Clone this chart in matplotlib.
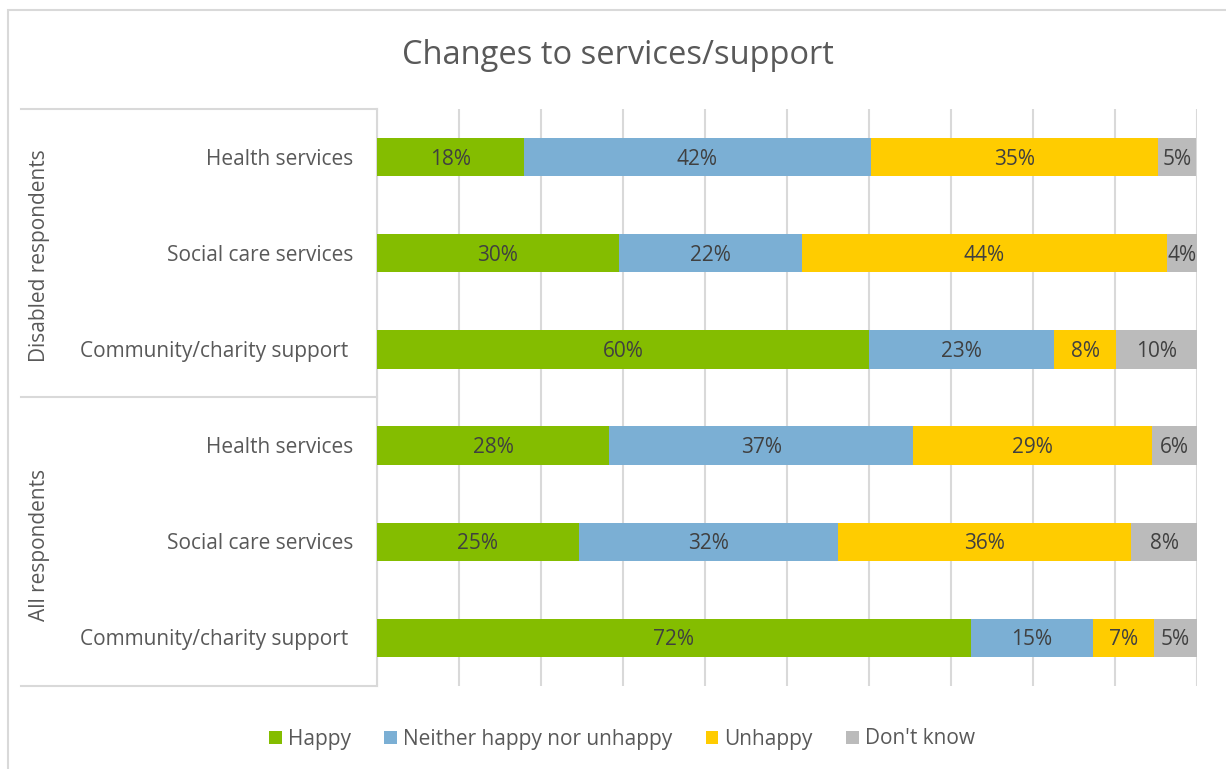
import matplotlib.pyplot as plt
import numpy as np

plt.rcParams['font.family'] = ['Open Sans', 'DejaVu Sans']

title = "Changes to services/support"
groups = ["Disabled respondents", "All respondents"]
categories = ["Health services", "Social care services", "Community/charity support ",
              "Health services", "Social care services", "Community/charity support "]
series = ["Happy", "Neither happy nor unhappy", "Unhappy", "Don't know"]
happy = [17.9, 29.5, 60.0, 28.3, 24.6, 72.4]
neither = [42.3, 22.3, 22.6, 37.1, 31.6, 14.9]
unhappy = [35.1, 44.5, 7.5, 29.1, 35.7, 7.4]
dont_know = [4.6, 3.7, 10.0, 5.5, 8.2, 5.4]
colors = ["#84BD00", "#7BAFD4", "#FFCC00", "#BBBBBB"]

TEXT = "#595959"
GRID = "#D9D9D9"
FS = 15

fig = plt.figure(figsize=(12.26, 7.69), dpi=100)
ax = fig.add_axes([377 / 1226, 1 - 686 / 769, 820 / 1226, 577 / 769])

y = np.arange(len(categories))
left = np.zeros(len(categories))
for name, vals, col in zip(series, [happy, neither, unhappy, dont_know], colors):
    vals = np.array(vals)
    bars = ax.barh(y, vals, left=left, height=0.4, color=col, label=name, zorder=3)
    for b, v in zip(bars, vals):
        ax.text(b.get_x() + b.get_width() / 2, b.get_y() + b.get_height() / 2 + 0.02,
                f"{v:.0f}%", ha="center", va="center", fontsize=FS,
                color="#404040", zorder=4)
    left += vals

ax.set_xlim(0, 100)
ax.set_ylim(len(categories) - 0.5, -0.5)
ax.set_xticks(np.arange(0, 101, 10))
ax.set_xticklabels([])
ax.tick_params(axis="x", length=0)
ax.set_yticks([])
ax.grid(axis="x", color=GRID, linewidth=1.5, zorder=0)
for s in ["top", "right", "bottom"]:
    ax.spines[s].set_visible(False)
ax.spines["left"].set_color(GRID)
ax.spines["left"].set_linewidth(1.5)

# category labels
for yi, cat in zip(y, categories):
    ax.text(-2.9, yi + 0.02, cat, ha="right", va="center", fontsize=FS, color=TEXT,
            clip_on=False)

# group frame lines and labels
x0 = 21 / 1226
x1 = 377 / 1226
for yy in [109, 397, 686]:
    fig.add_artist(plt.Line2D([x0, x1], [1 - yy / 769, 1 - yy / 769],
                              color=GRID, linewidth=1.5))
for g, yc in zip(groups, [256, 545]):
    fig.text(40 / 1226, 1 - yc / 769, g, rotation=90, ha="center", va="center",
             fontsize=FS, color=TEXT)

# outer chart border
fig.add_artist(plt.Rectangle((8 / 1226, -0.1), 1.2, 1 - 10 / 769 + 0.1,
                             fill=False, edgecolor=GRID, linewidth=1.5))

fig.text(618 / 1226, 1 - 56 / 769, title, ha="center", va="center",
         fontsize=23.5, color=TEXT)

fig.legend(loc="center", bbox_to_anchor=(622 / 1226, 1 - 739 / 769), ncol=4,
           frameon=False, fontsize=FS, labelcolor=TEXT, handlelength=0.6,
           handleheight=0.6, handletextpad=0.3, columnspacing=1.6)

fig.savefig("out.png", dpi=100)
